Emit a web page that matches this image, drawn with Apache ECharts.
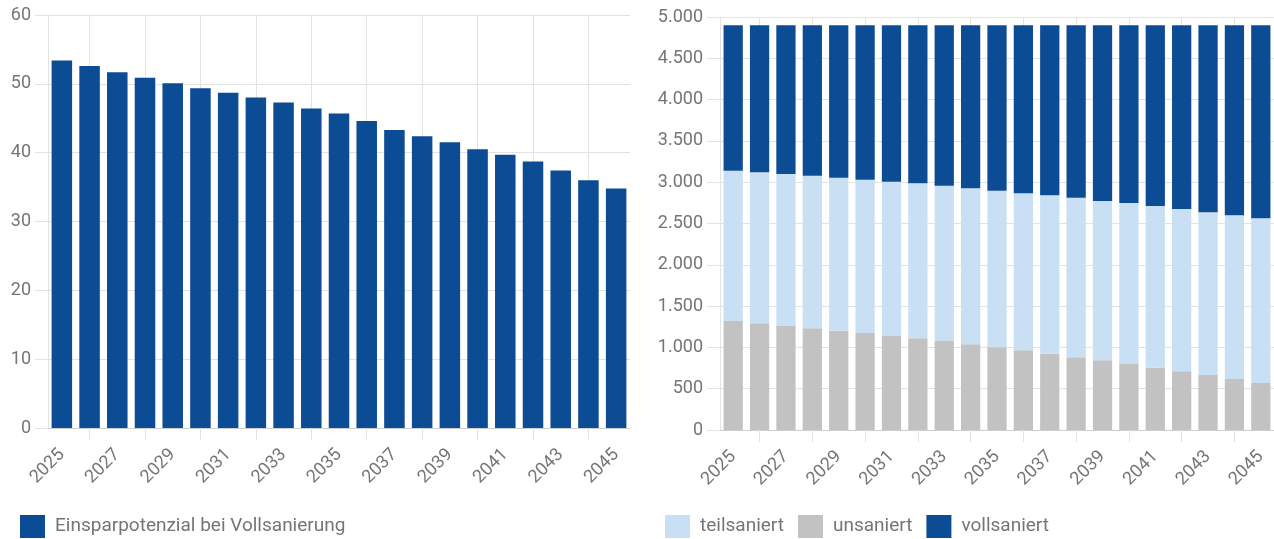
<!DOCTYPE html>
<html>
<head>
<meta charset="utf-8">
<script src="https://cdn.jsdelivr.net/npm/echarts@6/dist/echarts.min.js"></script>
<style>
  html, body { margin: 0; padding: 0; background: #fff; }
  #chart { width: 1274px; height: 539px; }
</style>
</head>
<body>
<div id="chart"></div>
<script>
// Years shown on both charts
const years = ['2025','2026','2027','2028','2029','2030','2031','2032','2033','2034','2035',
               '2036','2037','2038','2039','2040','2041','2042','2043','2044','2045'];

// Left chart: savings potential with full renovation
const einsparpotenzial = [53.4, 52.6, 51.7, 50.9, 50.1, 49.35, 48.7, 48.0, 47.3, 46.4, 45.7,
                          44.6, 43.3, 42.4, 41.5, 40.5, 39.7, 38.7, 37.4, 36.0, 34.8];

// Right chart: building stock by renovation state (stacked)
const unsaniert   = [1320, 1292, 1259, 1231, 1202, 1174, 1138, 1110, 1077, 1037, 1001,
                     965, 924, 880, 844, 799, 754, 711, 666, 617, 569];
const teilsaniert = [1819, 1828, 1840, 1848, 1853, 1857, 1868, 1876, 1881, 1889, 1896,
                     1900, 1919, 1932, 1928, 1949, 1958, 1965, 1970, 1982, 1994];
const vollsaniert = [1761, 1780, 1801, 1821, 1845, 1869, 1894, 1914, 1942, 1974, 2003,
                     2035, 2057, 2088, 2128, 2152, 2188, 2224, 2264, 2301, 2337];

// Axis tick values
const leftTicks = { min: 0, max: 60, interval: 10 };
const rightTicks = { min: 0, max: 5000, interval: 500 };

const DARK = '#0b4c94';
const LIGHT = '#c9dff4';
const GREY = '#c2c2c2';
const TEXT = '#757575';
const GRID = '#e2e2e2';
const FONT = 'Roboto';
const FS = 18;
const LEGEND_FS = 19;

const deNumber = v => v.toLocaleString('de-DE');

function xAxisFor(gridIndex) {
  return {
    type: 'category',
    gridIndex,
    data: years,
    boundaryGap: true,
    axisLine: { show: true, lineStyle: { color: '#cfcfcf', width: 1 } },
    axisTick: {
      show: true, alignWithLabel: true, length: 12,
      interval: i => i % 2 === 1,
      lineStyle: { color: GRID }
    },
    splitLine: {
      show: true, alignWithLabel: true,
      interval: i => i % 2 === 1,
      lineStyle: { color: GRID }
    },
    axisLabel: {
      interval: i => i % 2 === 0,
      rotate: 45, margin: 24,
      color: TEXT, fontFamily: FONT, fontSize: FS
    }
  };
}

function yAxisFor(gridIndex, ticks, fmt) {
  return {
    type: 'value',
    gridIndex,
    min: ticks.min, max: ticks.max, interval: ticks.interval,
    axisLine: { show: true, lineStyle: { color: GRID } },
    axisTick: { show: true, length: 13, lineStyle: { color: GRID } },
    splitLine: { show: true, lineStyle: { color: GRID } },
    axisLabel: { margin: 17, color: TEXT, fontFamily: FONT, fontSize: FS, formatter: fmt }
  };
}

const chart = echarts.init(document.getElementById('chart'), null, { renderer: 'canvas' });

chart.setOption({
  animation: false,
  backgroundColor: '#fff',
  grid: [
    { left: 48, top: 15, width: 582, height: 413 },
    { left: 720, top: 17, width: 556, height: 413 }
  ],
  xAxis: [xAxisFor(0), xAxisFor(1)],
  yAxis: [
    yAxisFor(0, leftTicks, v => deNumber(v)),
    yAxisFor(1, rightTicks, v => deNumber(v))
  ],
  legend: [
    {
      left: 15, top: 510,
      itemWidth: 25, itemHeight: 23,
      icon: 'rect',
      textStyle: { color: TEXT, fontFamily: FONT, fontSize: LEGEND_FS, padding: [0, 0, 0, 5] },
      data: ['Einsparpotenzial bei Vollsanierung']
    },
    {
      left: 660, top: 510,
      itemWidth: 25, itemHeight: 23, itemGap: 14,
      icon: 'rect',
      textStyle: { color: TEXT, fontFamily: FONT, fontSize: LEGEND_FS, padding: [0, 0, 0, 5] },
      data: ['teilsaniert', 'unsaniert', 'vollsaniert']
    }
  ],
  series: [
    {
      name: 'Einsparpotenzial bei Vollsanierung',
      type: 'bar', xAxisIndex: 0, yAxisIndex: 0,
      barCategoryGap: '26%',
      itemStyle: { color: DARK },
      data: einsparpotenzial
    },
    {
      name: 'unsaniert',
      type: 'bar', xAxisIndex: 1, yAxisIndex: 1, stack: 'bestand',
      barCategoryGap: '27%',
      itemStyle: { color: GREY },
      data: unsaniert
    },
    {
      name: 'teilsaniert',
      type: 'bar', xAxisIndex: 1, yAxisIndex: 1, stack: 'bestand',
      barCategoryGap: '27%',
      itemStyle: { color: LIGHT },
      data: teilsaniert
    },
    {
      name: 'vollsaniert',
      type: 'bar', xAxisIndex: 1, yAxisIndex: 1, stack: 'bestand',
      barCategoryGap: '27%',
      itemStyle: { color: DARK },
      data: vollsaniert
    }
  ]
});
</script>
</body>
</html>
